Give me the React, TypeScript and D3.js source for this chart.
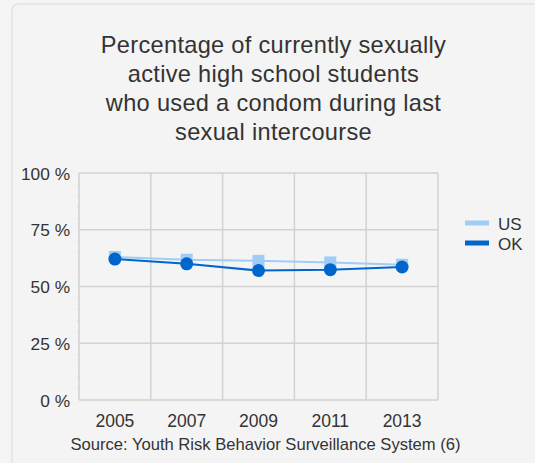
import React from "react";
import * as d3 from "d3";

const years = ["2005", "2007", "2009", "2011", "2013"];
const usValues = [63.0, 61.8, 61.3, 60.6, 59.6];
const okValues = [62.1, 60.0, 57.0, 57.4, 58.6];
const yTicks = [0, 25, 50, 75, 100];
const titleLines = [
  "Percentage of currently sexually",
  "active high school students",
  "who used a condom during last",
  "sexual intercourse",
];
const seriesNames = ["US", "OK"];

const W = 535;
const H = 463;
const left = 79;
const right = 438;
const top = 173;
const bottom = 400;
const US_COLOR = "#9fcdf8";
const OK_COLOR = "#0066cc";
const GRID = "#d2d2d2";
const TEXT = "#333333";
const FONT = "'Liberation Sans', Arial, sans-serif";

export default function App() {
  const x = d3.scaleBand<string>().domain(years).range([left, right]).padding(0);
  const y = d3.scaleLinear().domain([0, 100]).range([bottom, top]);
  const cx = (yr: string) => (x(yr) as number) + x.bandwidth() / 2;
  const line = d3
    .line<number>()
    .x((_, i) => cx(years[i]))
    .y((v) => y(v));
  const minor = d3.range(0, 101, 5).filter((v) => v % 25 !== 0);

  return (
    <svg
      width={W}
      height={H}
      style={{ position: "absolute", left: 0, top: 0 }}
      fontFamily={FONT}
    >
      <rect x={0} y={0} width={W} height={H} fill="#f5f5f5" />
      <rect x={12} y={4} width={W + 20} height={H + 20} rx={6} fill="#f4f4f4" stroke="#e2e2e2" strokeWidth={1.5} />
      {titleLines.map((t, i) => (
        <text key={i} x={273.5} y={52.5 + i * 29.3} textAnchor="middle" fontSize={23.6} letterSpacing={0.3} fill={TEXT}>
          {t}
        </text>
      ))}
      {/* gridlines */}
      {yTicks.map((t) => (
        <line key={"h" + t} x1={left} x2={right} y1={y(t)} y2={y(t)} stroke={GRID} strokeWidth={1.5} />
      ))}
      {years.map((yr) => (
        <line key={"v" + yr} x1={x(yr) as number} x2={x(yr) as number} y1={top} y2={bottom} stroke={GRID} strokeWidth={1.5} />
      ))}
      <line x1={right} x2={right} y1={top} y2={bottom} stroke={GRID} strokeWidth={1.5} />
      {minor.map((t) => (
        <line key={"m" + t} x1={left - 2} x2={left} y1={y(t)} y2={y(t)} stroke="#d8d8d8" strokeWidth={1} />
      ))}
      {yTicks.map((t) => (
        <text key={"yl" + t} x={70} y={y(t) + 6.5} textAnchor="end" fontSize={17.3} fill={TEXT}>
          {t} %
        </text>
      ))}
      {years.map((yr) => (
        <text key={"xl" + yr} x={cx(yr)} y={427} textAnchor="middle" fontSize={17.5} fill={TEXT}>
          {yr}
        </text>
      ))}
      <text x={265.5} y={450} textAnchor="middle" fontSize={16.6} fill={TEXT}>
        Source: Youth Risk Behavior Surveillance System (6)
      </text>
      {/* US series */}
      <path d={line(usValues) || ""} fill="none" stroke={US_COLOR} strokeWidth={2} />
      {usValues.map((v, i) => (
        <rect key={"us" + i} x={cx(years[i]) - 6} y={y(v) - 6} width={12} height={12} fill={US_COLOR} />
      ))}
      {/* OK series */}
      <path d={line(okValues) || ""} fill="none" stroke={OK_COLOR} strokeWidth={2} />
      {okValues.map((v, i) => (
        <circle key={"ok" + i} cx={cx(years[i])} cy={y(v)} r={6.5} fill={OK_COLOR} />
      ))}
      {/* legend */}
      {seriesNames.map((n, i) => (
        <g key={n}>
          <rect x={465} y={220.5 + i * 20} width={24} height={5} fill={i === 0 ? US_COLOR : OK_COLOR} />
          <text x={498} y={230 + i * 20} fontSize={17} fill={TEXT}>
            {n}
          </text>
        </g>
      ))}
    </svg>
  );
}
